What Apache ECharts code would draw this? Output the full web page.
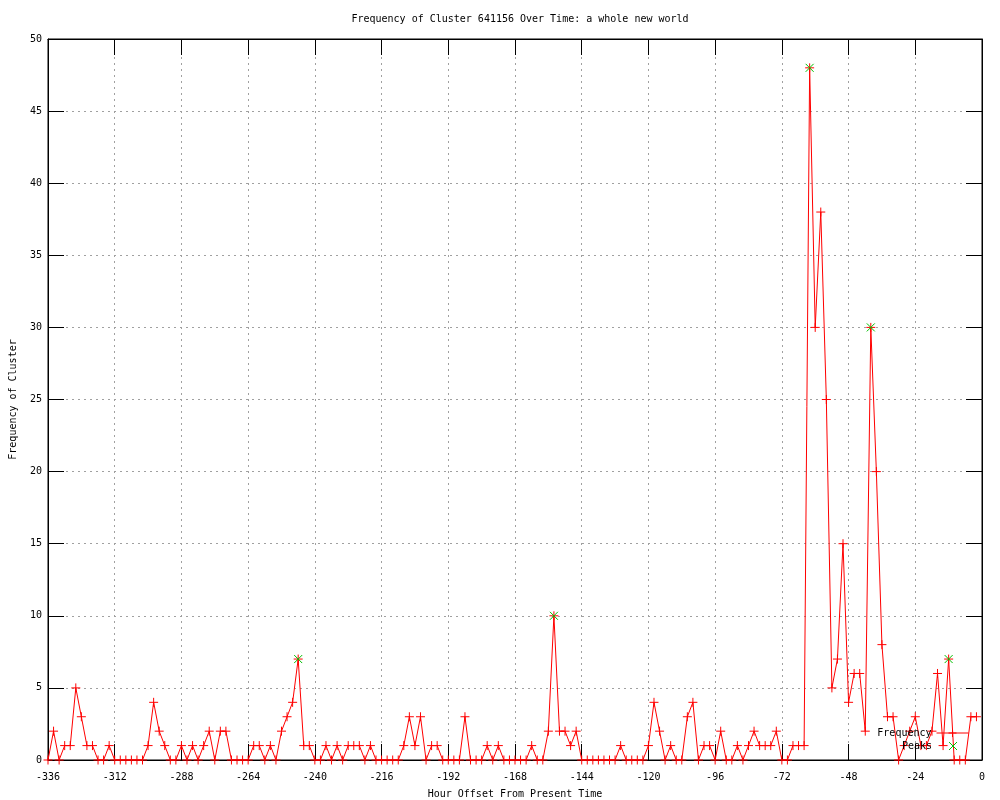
<!DOCTYPE html>
<html>
<head>
<meta charset="utf-8">
<script src="https://cdn.jsdelivr.net/npm/echarts@6/dist/echarts.min.js"></script>
<style>html,body{margin:0;padding:0;background:#fff}#c{width:1000px;height:800px}</style>
</head>
<body>
<div id="c"></div>
<script>
const titleText = 'Frequency of Cluster 641156 Over Time: a whole new world';
const xAxisName = 'Hour Offset From Present Time';
const yAxisName = 'Frequency of Cluster';
const seriesNames = ['Frequency', 'Peaks'];

// hours: first sample at -336, one sample every 2 hours
const firstHour = -336;
const hourStep = 2;
const frequency = [
  0, 2, 0, 1, 1, 5, 3, 1, 1, 0, 0, 1, 0, 0, 0, 0, 0, 0, 1, 4,
  2, 1, 0, 0, 1, 0, 1, 0, 1, 2, 0, 2, 2, 0, 0, 0, 0, 1, 1, 0,
  1, 0, 2, 3, 4, 7, 1, 1, 0, 0, 1, 0, 1, 0, 1, 1, 1, 0, 1, 0,
  0, 0, 0, 0, 1, 3, 1, 3, 0, 1, 1, 0, 0, 0, 0, 3, 0, 0, 0, 1,
  0, 1, 0, 0, 0, 0, 0, 1, 0, 0, 2, 10, 2, 2, 1, 2, 0, 0, 0, 0,
  0, 0, 0, 1, 0, 0, 0, 0, 1, 4, 2, 0, 1, 0, 0, 3, 4, 0, 1, 1,
  0, 2, 0, 0, 1, 0, 1, 2, 1, 1, 1, 2, 0, 0, 1, 1, 1, 48, 30, 38,
  25, 5, 7, 15, 4, 6, 6, 2, 30, 20, 8, 3, 3, 0, 1, 2, 3, 1, 1, 2,
  6, 1, 7, 0, 0, 0, 3, 3
];
const peakHours = [-246, -154, -62, -40, -12];
const peakValues = [7, 10, 48, 30, 7];

const xMin = -336, xMax = 0, xInterval = 24;
const yMin = 0, yMax = 50, yInterval = 5;

const font = 'DejaVu Sans Mono';
const freqData = frequency.map((v, i) => [firstHour + i * hourStep, v]);
const peakData = peakHours.map((h, i) => [h, peakValues[i]]);
const plusSym = 'path://M0,5L10,5M5,0L5,10';
const crossSym = 'path://M0,0L10,10M10,0L0,10';

const tickStyle = { show: true, inside: true, length: 16, lineStyle: { color: '#000', width: 1 } };
const gridLine = { show: true, lineStyle: { color: '#a0a0a0', width: 1, type: [2, 4] } };
const txt = { fontFamily: font, fontSize: 10, color: '#000' };

const chart = echarts.init(document.getElementById('c'), null, { renderer: 'canvas' });
chart.setOption({
  animation: false,
  backgroundColor: '#fff',
  textStyle: { fontFamily: font },
  title: {
    text: titleText, left: 515, top: 9, textAlign: 'center',
    textStyle: Object.assign({ fontWeight: 'normal' }, txt)
  },
  grid: {
    left: 48, right: 18, top: 39, bottom: 40, containLabel: false, outerBoundsMode: 'none',
    show: true, borderColor: '#000', borderWidth: 1
  },
  xAxis: [
    {
      type: 'value', min: xMin, max: xMax, interval: xInterval, position: 'bottom',
      name: xAxisName, nameLocation: 'middle', nameGap: 29, nameTextStyle: txt,
      axisLine: { show: true, onZero: false, lineStyle: { color: '#000' } },
      axisTick: tickStyle,
      axisLabel: Object.assign({ margin: 12 }, txt),
      splitLine: gridLine
    },
    {
      type: 'value', min: xMin, max: xMax, interval: xInterval, position: 'top',
      axisLine: { show: true, onZero: false, lineStyle: { color: '#000' } },
      axisTick: tickStyle, axisLabel: { show: false }, splitLine: { show: false }
    }
  ],
  yAxis: [
    {
      type: 'value', min: yMin, max: yMax, interval: yInterval, position: 'left',
      name: yAxisName, nameLocation: 'middle', nameGap: 30, nameTextStyle: txt,
      axisLine: { show: true, onZero: false, lineStyle: { color: '#000' } },
      axisTick: tickStyle,
      axisLabel: Object.assign({ margin: 6 }, txt),
      splitLine: gridLine
    },
    {
      type: 'value', min: yMin, max: yMax, interval: yInterval, position: 'right',
      axisLine: { show: true, onZero: false, lineStyle: { color: '#000' } },
      axisTick: tickStyle, axisLabel: { show: false }, splitLine: { show: false }
    }
  ],
  legend: [
    {
      data: [seriesNames[0]], right: 31, top: 728, align: 'right', orient: 'vertical',
      itemWidth: 32, itemHeight: 10, padding: 0, itemGap: 0, selectedMode: false,
      lineStyle: { width: 1 }, itemStyle: { borderWidth: 1 },
      textStyle: txt
    },
    {
      data: [seriesNames[1]], right: 31, top: 741, align: 'right', orient: 'vertical',
      itemWidth: 32, itemHeight: 10, padding: 0, itemGap: 0, selectedMode: false,
      lineStyle: { width: 0, opacity: 0 }, itemStyle: { borderWidth: 1 },
      textStyle: txt
    }
  ],
  series: [
    {
      name: seriesNames[0], type: 'line', data: freqData, xAxisIndex: 0, yAxisIndex: 0,
      symbol: plusSym, symbolSize: 9, showSymbol: true, clip: false,
      lineStyle: { color: '#ff0000', width: 1 },
      itemStyle: { color: '#ff0000', borderColor: '#ff0000', borderWidth: 1 },
      emphasis: { disabled: true }, z: 3
    },
    {
      name: seriesNames[1], type: 'line', data: peakData, xAxisIndex: 0, yAxisIndex: 0,
      symbol: crossSym, symbolSize: 8, showSymbol: true, clip: false,
      lineStyle: { color: '#00c000', width: 0, opacity: 0 },
      itemStyle: { color: '#00c000', borderColor: '#00c000', borderWidth: 1 },
      emphasis: { disabled: true }, z: 4
    }
  ]
});
</script>
</body>
</html>
